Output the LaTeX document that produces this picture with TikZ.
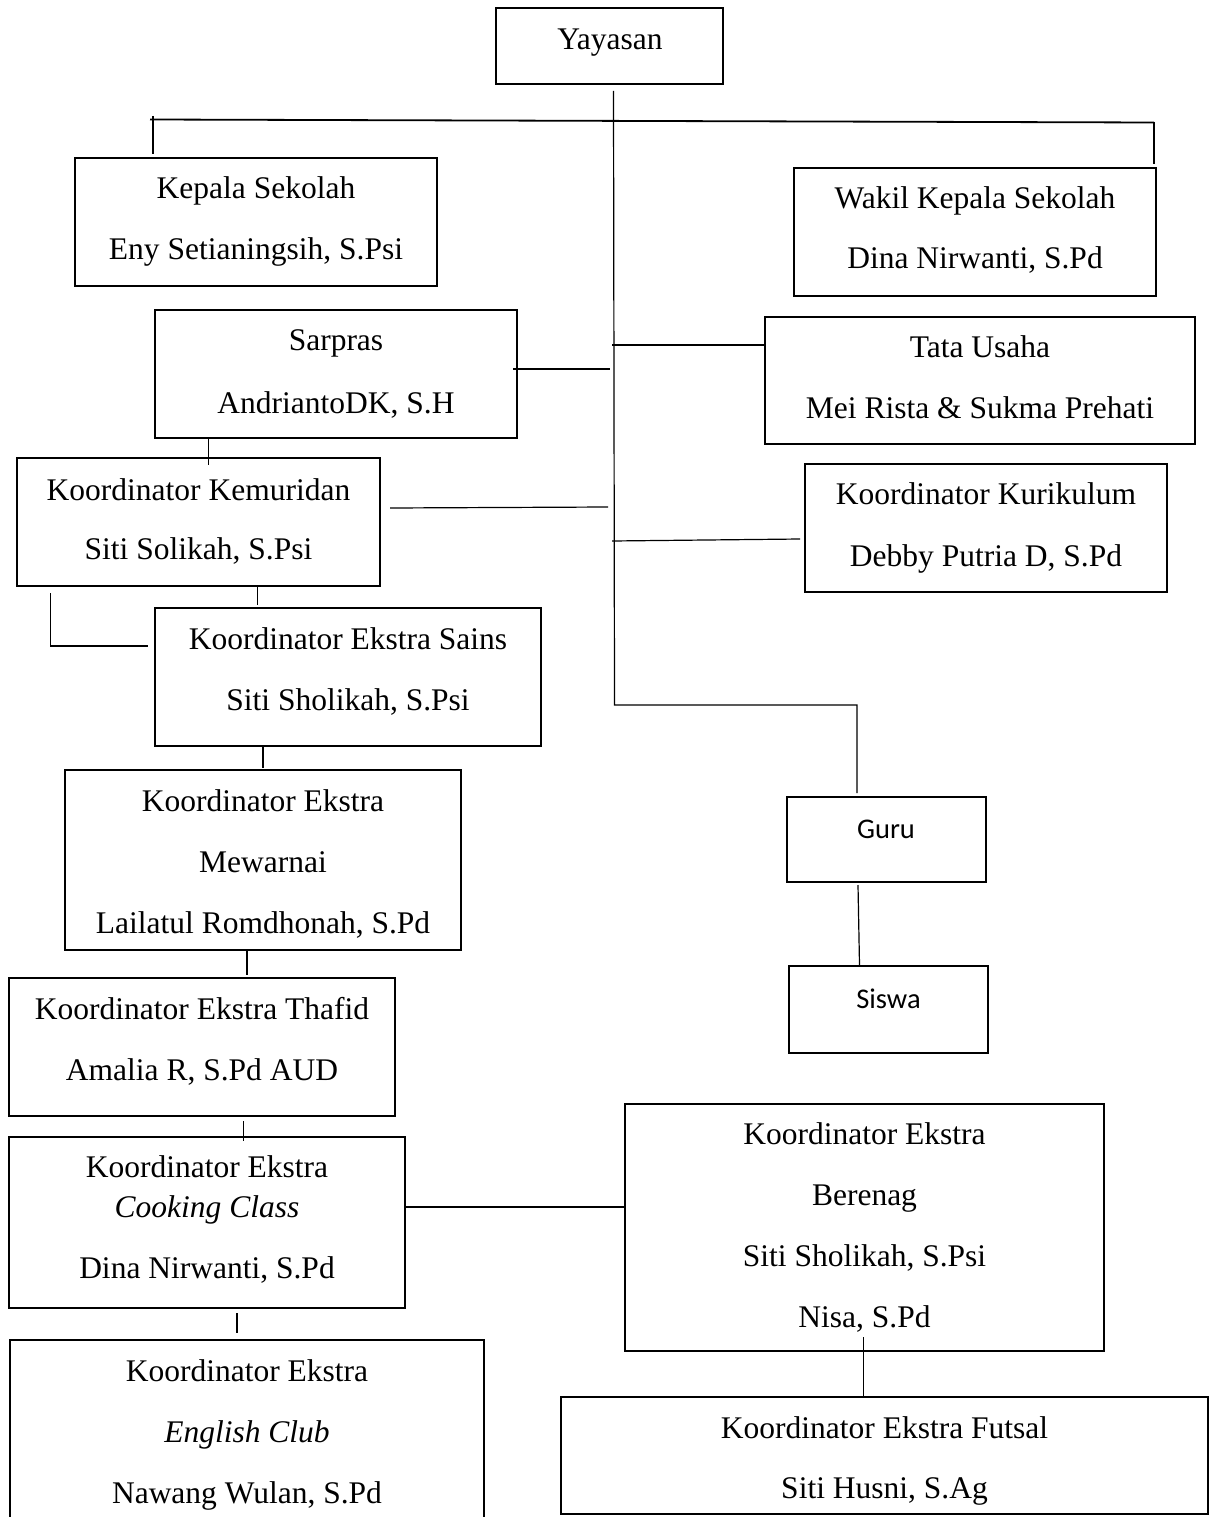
\documentclass[tikz,border=0pt]{standalone}
\usepackage{fontspec}
\setmainfont{Liberation Serif}
\newfontfamily\calibfont{Carlito}
\begin{document}
\begin{tikzpicture}[x=1pt,y=-1pt,
  box/.style={draw=black, line width=2pt, inner sep=0pt, fill=none},
  txt/.style={anchor=base, inner sep=0pt, font=\fontsize{31.5}{38}\selectfont},
  sanstxt/.style={anchor=base, inner sep=0pt, font=\calibfont\fontsize{28.5}{34}\selectfont},
  conn/.style={draw=black, line width=1.2pt}]
\useasboundingbox (0,0) rectangle (1216,1517);
\fill[white] (0,0) rectangle (1216,1517);
\clip (0,0) rectangle (1216,1517);

% boxes
\node[box, minimum width=227pt, minimum height=76pt] (yay) at (609.5,46) {};
\node[box, minimum width=362pt, minimum height=128pt] (kep) at (256,222) {};
\node[box, minimum width=362pt, minimum height=128pt] (wak) at (975,232) {};
\node[box, minimum width=362pt, minimum height=128pt] (sar) at (336,374) {};
\node[box, minimum width=430pt, minimum height=127pt] (tu) at (980,380.5) {};
\node[box, minimum width=363pt, minimum height=128pt] (kem) at (198.5,522) {};
\node[box, minimum width=362pt, minimum height=128pt] (kur) at (986,528) {};
\node[box, minimum width=386pt, minimum height=138pt] (sains) at (348,677) {};
\node[box, minimum width=396pt, minimum height=180pt] (mew) at (263,860) {};
\node[box, minimum width=386pt, minimum height=138pt] (tha) at (202,1047) {};
\node[box, minimum width=396pt, minimum height=171pt] (cook) at (207,1222.5) {};
\node[box, minimum width=474pt, minimum height=200pt] (eng) at (247,1440) {};
\node[box, minimum width=479pt, minimum height=247pt] (ber) at (864.5,1227.5) {};
\node[box, minimum width=647pt, minimum height=117pt] (fut) at (884.5,1455.5) {};
\node[box, minimum width=199pt, minimum height=85pt] (guru) at (886.5,839.5) {};
\node[box, minimum width=199pt, minimum height=87pt] (siswa) at (888.5,1009.5) {};

% texts
\node[txt] (yay-t) at (610,50) {Yayasan};
\node[txt] (kep-t1) at (256,198) {Kepala Sekolah};
\node[txt] (kep-t2) at (256,259) {Eny Setianingsih, S.Psi};
\node[txt] (wak-t1) at (975,208) {Wakil Kepala Sekolah};
\node[txt] (wak-t2) at (975,268) {Dina Nirwanti, S.Pd};
\node[txt] (sar-t1) at (336,350) {Sarpras};
\node[txt] (sar-t2) at (336,413) {AndriantoDK, S.H};
\node[txt] (tu-t1) at (980,357) {Tata Usaha};
\node[txt] (tu-t2) at (980,418) {Mei Rista \& Sukma Prehati};
\node[txt] (kem-t1) at (198.5,500) {Koordinator Kemuridan};
\node[txt] (kem-t2) at (198.5,559) {Siti Solikah, S.Psi};
\node[txt] (kur-t1) at (986,504) {Koordinator Kurikulum};
\node[txt] (kur-t2) at (986,566) {Debby Putria D, S.Pd};
\node[txt] (sains-t1) at (348,649) {Koordinator Ekstra Sains};
\node[txt] (sains-t2) at (348,710) {Siti Sholikah, S.Psi};
\node[txt] (mew-t1) at (263,811) {Koordinator Ekstra};
\node[txt] (mew-t2) at (263,872) {Mewarnai};
\node[txt] (mew-t3) at (263,933) {Lailatul Romdhonah, S.Pd};
\node[txt] (tha-t1) at (202,1019) {Koordinator Ekstra Thafid};
\node[txt] (tha-t2) at (202,1080) {Amalia R, S.Pd AUD};
\node[txt] (cook-t1) at (207,1177) {Koordinator Ekstra};
\node[txt] (cook-t2) at (207,1217) {\itshape Cooking Class};
\node[txt] (cook-t3) at (207,1278) {Dina Nirwanti, S.Pd};
\node[txt] (eng-t1) at (247,1381) {Koordinator Ekstra};
\node[txt] (eng-t2) at (247,1442) {\itshape English Club};
\node[txt] (eng-t3) at (247,1503) {Nawang Wulan, S.Pd};
\node[txt] (ber-t1) at (864.5,1144) {Koordinator Ekstra};
\node[txt] (ber-t2) at (864.5,1205) {Berenag};
\node[txt] (ber-t3) at (864.5,1266) {Siti Sholikah, S.Psi};
\node[txt] (ber-t4) at (864.5,1327) {Nisa, S.Pd};
\node[txt] (fut-t1) at (884.5,1438) {Koordinator Ekstra Futsal};
\node[txt] (fut-t2) at (884.5,1498) {Siti Husni, S.Ag};
\node[sanstxt] (guru-t) at (886,838) {Guru};
\node[sanstxt] (siswa-t) at (888.5,1008) {Siswa};

% junction coordinates
\coordinate (sp-top) at (613.5,91);
\coordinate (sp-bot) at (614.5,705);
\coordinate (sp-turn) at (857,705);
\coordinate (guru-in) at (857,793);
\coordinate (bar-l) at (150,119.5);
\coordinate (bar-r) at (1154,122.5);
\coordinate (kep-st) at (153,116);
\coordinate (kep-in) at (153,154);
\coordinate (wak-in) at (1154,164);
\coordinate (sar-out) at (513,369);
\coordinate (sar-j) at (610,369);
\coordinate (tu-j) at (612,345);
\coordinate (tu-in) at (765,345);
\coordinate (kem-out) at (390,508);
\coordinate (kem-j) at (608,507);
\coordinate (kur-j) at (612,541);
\coordinate (kur-in) at (800,539);
\coordinate (sar-dn) at (208.5,438);
\coordinate (kem-up) at (208.5,465);
\coordinate (kem-dn) at (257.5,587);
\coordinate (sains-up) at (257.5,605);
\coordinate (br-top) at (50.5,593);
\coordinate (br-corner) at (50.5,646);
\coordinate (br-end) at (148,646);
\coordinate (sains-dn) at (263,747);
\coordinate (mew-up) at (263,768);
\coordinate (mew-dn) at (247,951);
\coordinate (tha-up) at (247,975);
\coordinate (tha-dn) at (243.5,1121);
\coordinate (cook-up) at (243.5,1141);
\coordinate (cook-out) at (404,1207);
\coordinate (ber-in) at (625,1207);
\coordinate (cook-dn) at (237,1313);
\coordinate (eng-up) at (237,1333);
\coordinate (ber-dn) at (863.5,1337);
\coordinate (fut-up) at (863.5,1397);
\coordinate (guru-dn) at (858,885);
\coordinate (siswa-up) at (859.5,965);

% connectors
\draw[conn] (sp-top) -- (sp-bot) -- (sp-turn) -- (guru-in);
\draw[conn, line width=1.8pt] (bar-l) -- (bar-r);
\draw[conn] (kep-st) -- (kep-in);
\draw[conn] (bar-r) -- (wak-in);
\draw[conn] (sar-out) -- (sar-j);
\draw[conn] (tu-j) -- (tu-in);
\draw[conn] (kem-out) -- (kem-j);
\draw[conn] (kur-j) -- (kur-in);
\draw[conn] (sar-dn) -- (kem-up);
\draw[conn] (kem-dn) -- (sains-up);
\draw[conn] (br-top) -- (br-corner) -- (br-end);
\draw[conn] (sains-dn) -- (mew-up);
\draw[conn] (mew-dn) -- (tha-up);
\draw[conn] (tha-dn) -- (cook-up);
\draw[conn] (cook-out) -- (ber-in);
\draw[conn] (cook-dn) -- (eng-up);
\draw[conn] (ber-dn) -- (fut-up);
\draw[conn] (guru-dn) -- (siswa-up);
\end{tikzpicture}
\end{document}
